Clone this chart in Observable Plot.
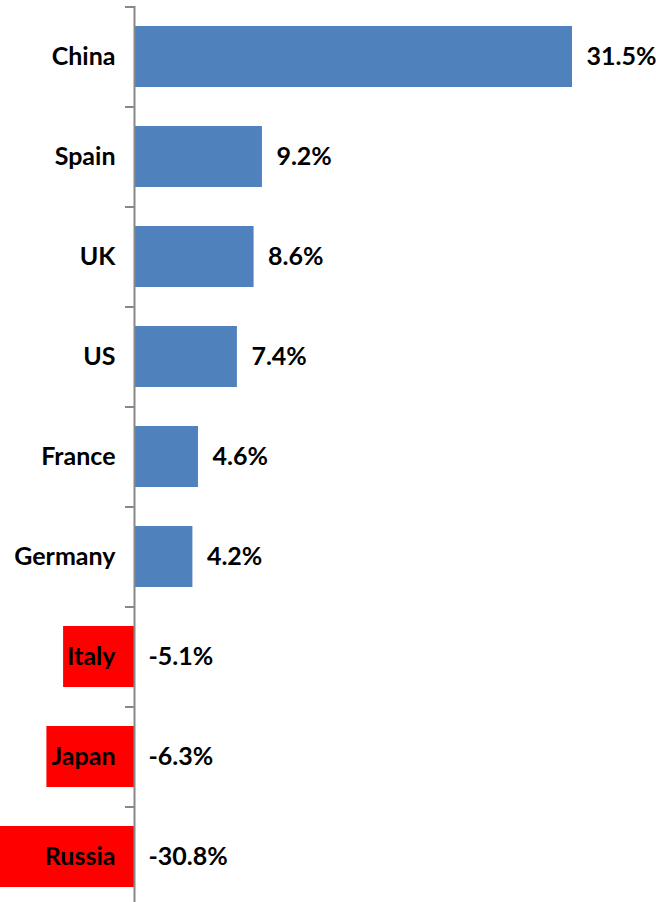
<!DOCTYPE html>
<html>
<head>
<meta charset="utf-8">
<script src="https://cdn.jsdelivr.net/npm/d3@7"></script>
<script src="https://cdn.jsdelivr.net/npm/@observablehq/plot@0.6"></script>
<style>
  html, body { margin: 0; padding: 0; background: #fff; }
  #chart svg { display: block; }
</style>
</head>
<body>
<div id="chart"></div>
<script>
const countries = ["China", "Spain", "UK", "US", "France", "Germany", "Italy", "Japan", "Russia"];
const values = [31.5, 9.2, 8.6, 7.4, 4.6, 4.2, -5.1, -6.3, -30.8];
const valueLabels = ["31.5%", "9.2%", "8.6%", "7.4%", "4.6%", "4.2%", "-5.1%", "-6.3%", "-30.8%"];

const rows = countries.map((c, i) => ({country: c, value: values[i], label: valueLabels[i]}));

const font = "Lato, 'Open Sans', sans-serif";

const chart = Plot.plot({
  width: 656,
  height: 902,
  marginTop: 0, marginBottom: 0, marginLeft: 0, marginRight: 0,
  style: {fontFamily: font, background: "#fff"},
  x: {domain: [0, 31.5], range: [134, 572], axis: null},
  y: {domain: countries, range: [6, 906], paddingInner: 0.39, paddingOuter: 0.195, axis: null},
  marks: [
    Plot.barX(rows, {
      y: "country", x1: 0, x2: "value",
      fill: d => d.value >= 0 ? "#4F81BD" : "#FF0000"
    }),
    Plot.ruleX([0], {insetTop: 6, stroke: "#888", strokeWidth: 2}),
    Plot.ruleY(countries, {y: d => d, x1: 0, x2: 0, insetLeft: -9, dy: -50, stroke: "#888", strokeWidth: 2}),
    Plot.text(rows, {
      y: "country", x: 0, text: "country", dx: -19,
      textAnchor: "end", fontSize: 25, fontWeight: "bold", fill: "#000"
    }),
    Plot.text(rows, {
      y: "country", x: d => Math.max(d.value, 0), text: "label", dx: 14,
      textAnchor: "start", fontSize: 25, fontWeight: "bold", fill: "#000"
    })
  ]
});
document.getElementById("chart").appendChild(chart);
</script>
</body>
</html>
